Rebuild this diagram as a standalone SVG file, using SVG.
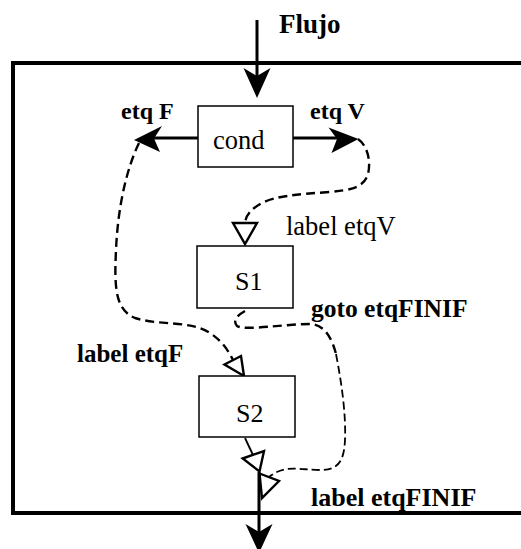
<svg xmlns="http://www.w3.org/2000/svg" width="521" height="549" viewBox="0 0 521 549">
  <style>
    .frame { fill: none; stroke: #000; stroke-width: 4; }
    .box { fill: #fff; stroke: #000; stroke-width: 1.5; }
    .flow { fill: none; stroke: #000; stroke-width: 3; }
    .thin { fill: none; stroke: #000; stroke-width: 1.8; }
    .jump { fill: none; stroke: #000; stroke-width: 2.4; stroke-dasharray: 9 5; }
    .jump-thin { fill: none; stroke: #000; stroke-width: 1.8; stroke-dasharray: 8 4; }
    .head { fill: #000; stroke: none; }
    .open-head { fill: #fff; stroke: #000; stroke-width: 2.4; stroke-linejoin: miter; }
  </style>

  <rect width="521" height="549" fill="#fff"/>

  <!-- enclosing block (open on the right) -->
  <path class="frame" d="M523,63 H13 V513 H523"/>

  <!-- connectors -->
  <g id="connectors">
    <!-- incoming flow -->
    <line class="flow" x1="257" y1="20" x2="257" y2="80"/>
    <path class="head" d="M257,98 L243.5,68 L257,76 L270.5,68 Z"/>

    <!-- cond: false / true exits -->
    <line class="flow" x1="198" y1="138" x2="152" y2="138"/>
    <path class="head" d="M134,140 L162,126 L154,138.5 L160,152 Z"/>
    <line class="flow" x1="293" y1="138" x2="340" y2="138"/>
    <path class="head" d="M358.5,139 L328.5,127.5 L337,139 L331.5,153 Z"/>

    <!-- true branch jump to S1 -->
    <path class="jump" d="M358,139 C368,146 371,162 368,174 C364,188 350,190 330,192 C300,194 275,196 262,203 C251,209 246,215 245,223"/>
    <polygon class="open-head" points="233,223 257,223 245,244"/>

    <!-- false branch jump to S2 -->
    <path class="jump" d="M139,143 C127,168 118,205 116,250 C114,290 116,310 135,318 C160,326 190,320 210,333 C222,341 228,350 233,360"/>
    <polygon class="open-head" points="224.5,364.5 241,356 244,376"/>

    <!-- S1: goto end of if -->
    <path class="jump" d="M245,311 C238,315 232,320 237,326 C245,331 285,324 310,324 C324,324 332,338 336,354"/>
    <path class="jump-thin" d="M336,354 C342,385 346,415 345,440 C344,462 338,470 320,470 C300,470 285,464 269,477"/>
    <polygon class="open-head" points="259.5,473.5 279,481 262,498"/>

    <!-- S2 falls through to end of if -->
    <line class="thin" x1="245" y1="438" x2="253" y2="455"/>
    <polygon class="open-head" points="242.7,458.5 264,451 259.5,471.5"/>

    <!-- outgoing flow -->
    <line class="flow" x1="259" y1="472" x2="259" y2="535"/>
    <path class="head" d="M259,553 L245.5,524 L259,532 L272.5,524 Z"/>
  </g>

  <g id="flujo-label">
    <text x="279" y="33" font-family="Liberation Serif, serif" font-size="27" font-weight="bold">Flujo</text>
  </g>

  <g id="cond">
    <rect class="box" x="198" y="106" width="95" height="61"/>
    <text x="213" y="149" font-family="Liberation Serif, serif" font-size="26.5">cond</text>
  </g>

  <g id="etq-labels">
    <text x="121" y="119" font-family="Liberation Serif, serif" font-size="24" font-weight="bold">etq F</text>
    <text x="310" y="119" font-family="Liberation Serif, serif" font-size="24" font-weight="bold">etq V</text>
  </g>

  <g id="s1">
    <rect class="box" x="197" y="246" width="96" height="62"/>
    <text x="235" y="290" font-family="Liberation Serif, serif" font-size="26">S1</text>
  </g>

  <g id="s2">
    <rect class="box" x="199" y="376" width="96" height="61"/>
    <text x="236" y="422" font-family="Liberation Serif, serif" font-size="26">S2</text>
  </g>

  <g id="jump-labels">
    <text x="286" y="235" font-family="Liberation Serif, serif" font-size="26.5">label etqV</text>
    <text x="311" y="317" font-family="Liberation Serif, serif" font-size="25.5" font-weight="bold">goto etqFINIF</text>
    <text x="77" y="362" font-family="Liberation Serif, serif" font-size="25" font-weight="bold">label etqF</text>
    <text x="311" y="506" font-family="Liberation Serif, serif" font-size="26" font-weight="bold">label etqFINIF</text>
  </g>
</svg>
